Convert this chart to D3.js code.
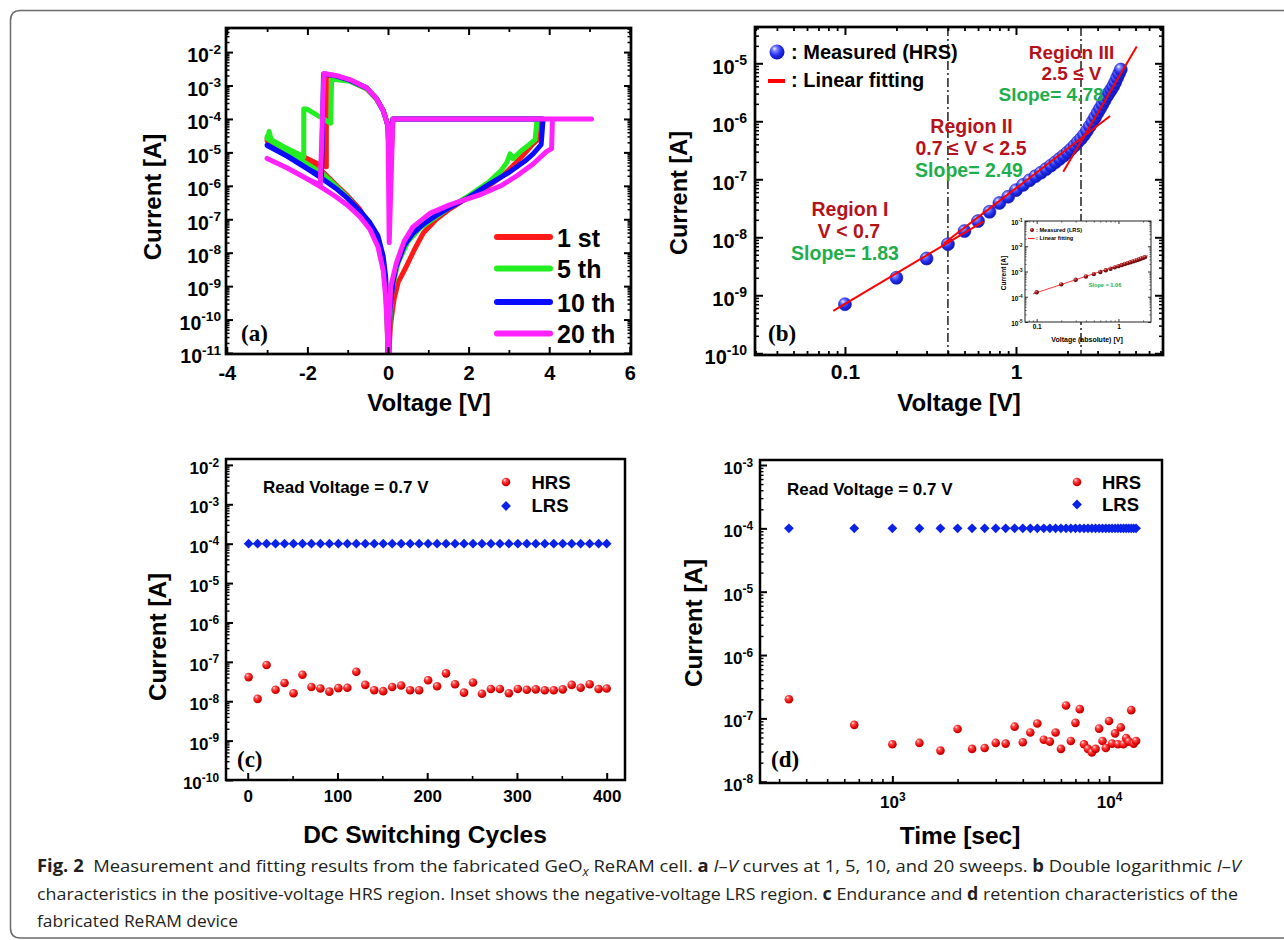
<!DOCTYPE html>
<html>
<head>
<meta charset="utf-8">
<script src="https://cdn.jsdelivr.net/npm/d3@7/dist/d3.min.js"></script>
<style>
html,body{margin:0;padding:0;background:#fff;}
svg{display:block;}
text{white-space:pre;}
</style>
</head>
<body>
<script>
// ================= DATA =================
// (a) I-V sweeps: [voltage V, |current| A] in sweep order
const sweepNames = ["1 st", "5 th", "10 th", "20 th"];
const sweepColors = ["#ff1a1a", "#22ee22", "#0a0aff", "#ff22ff"];
const ivVoltageTicks = [-4, -2, 0, 2, 4, 6];
const ivVoltageMinor = [-3, -1, 1, 3, 5];
const sweep1st = [
 [0.02,1e-11],[0.06,6e-11],[0.1,1.5e-10],[0.15,4e-10],[0.25,1.3e-9],[0.46,4e-9],[0.65,1.2e-8],[0.87,3.8e-8],[1.2,1e-7],[1.5,1.9e-7],[1.86,3.6e-7],[2.2,6e-7],[2.5,1e-6],[2.8,1.8e-6],[3.0,3e-6],[3.3,7e-6],[3.6,1.8e-5],[3.78,2.8e-5],[3.8,1e-4],
 [0.12,1e-4],[0.05,1e-6],[0.0,6e-5],
 [-0.04,9e-5],[-0.12,1.8e-4],[-0.29,4e-4],[-0.53,8e-4],[-0.95,1.4e-3],[-1.3,1.85e-3],[-1.53,2e-3],
 [-1.53,3.7e-6],[-1.77,4.7e-6],[-2.2,8.5e-6],[-2.6,1.35e-5],[-3.0,2.6e-5],
 [-3.0,2.2e-5],[-2.5,1e-5],[-2.0,4.5e-6],[-1.6,2.5e-6],[-1.3,1.1e-6],[-1.0,5e-7],[-0.7,2e-7],[-0.45,6e-8],[-0.25,2e-8],[-0.12,5e-9],[-0.06,1e-9],[-0.03,2e-10],[-0.01,3e-11],[0,1e-11]
];
const sweep5th = [
 [0.02,1e-11],[0.05,1e-10],[0.1,8e-10],[0.25,5e-9],[0.5,2.2e-8],[0.8,5.5e-8],[1.2,1.2e-7],[1.6,2.6e-7],[2.0,5e-7],[2.5,1.3e-6],[2.8,2.8e-6],[2.95,5e-6],[3.03,9e-6],[3.1,6.5e-6],[3.3,1.1e-5],[3.5,1.7e-5],[3.65,2.4e-5],[3.7,1e-4],
 [0.12,1e-4],[0.04,1e-6],[0.0,6e-5],
 [-0.04,9e-5],[-0.12,1.8e-4],[-0.29,4e-4],[-0.53,8e-4],[-0.95,1.35e-3],[-1.3,1.5e-3],[-1.4,1.5e-3],
 [-1.42,7.4e-5],[-2.02,2e-4],[-2.09,2e-4],[-2.09,7.4e-6],[-2.5,1.3e-5],[-2.9,2.4e-5],[-2.95,4.2e-5],[-2.98,2.8e-5],[-3.0,3e-5],
 [-3.0,2.6e-5],[-2.5,1.1e-5],[-2.0,4.5e-6],[-1.6,2.2e-6],[-1.3,1e-6],[-1.0,4.5e-7],[-0.7,1.6e-7],[-0.45,5.5e-8],[-0.25,1.8e-8],[-0.12,4e-9],[-0.06,8e-10],[-0.03,1.5e-10],[-0.01,3e-11],[0,1e-11]
];
const sweep10th = [
 [0.02,1e-11],[0.05,2e-10],[0.12,1.2e-9],[0.2,3.7e-9],[0.4,1.6e-8],[0.62,3.8e-8],[0.9,7.5e-8],[1.2,1.3e-7],[1.6,2.5e-7],[2.0,4.5e-7],[2.5,1.1e-6],[3.0,2.5e-6],[3.4,5.5e-6],[3.6,9e-6],[3.8,1.7e-5],[3.85,1e-4],
 [0.12,1e-4],[0.04,3e-6],[0.0,6e-5],
 [-0.04,9e-5],[-0.12,1.8e-4],[-0.29,4.2e-4],[-0.53,8.5e-4],[-0.95,1.45e-3],[-1.3,1.95e-3],[-1.6,2.2e-3],
 [-1.65,1.9e-6],[-2.0,3.3e-6],[-2.5,7.8e-6],[-3.0,1.66e-5],
 [-3.0,1.6e-5],[-2.5,7.6e-6],[-2.0,3.2e-6],[-1.65,1.7e-6],[-1.3,8.5e-7],[-1.0,4.2e-7],[-0.7,1.8e-7],[-0.45,8e-8],[-0.25,3.2e-8],[-0.12,8e-9],[-0.06,2e-9],[-0.03,4e-10],[-0.01,5e-11],[0,1e-11]
];
const sweep20th = [
 [0.02,1e-11],[0.03,1e-10],[0.07,1e-9],[0.21,5e-9],[0.4,2.2e-8],[0.62,5.9e-8],[1.04,1.5e-7],[1.5,2.6e-7],[1.86,3.7e-7],[2.3,5.5e-7],[2.8,1e-6],[3.2,2e-6],[3.6,4.5e-6],[3.93,1.05e-5],[4.06,1.3e-5],[4.08,1e-4],[5.05,1e-4],
 [0.12,1e-4],[0.03,2e-8],[0.0,6e-5],
 [-0.04,9e-5],[-0.12,1.8e-4],[-0.29,4.2e-4],[-0.53,8.5e-4],[-0.95,1.5e-3],[-1.3,2e-3],[-1.59,2.3e-3],
 [-1.68,1.05e-6],[-2.0,1.6e-6],[-2.5,3.4e-6],[-3.0,6.6e-6],
 [-3.0,6.6e-6],[-2.5,3.4e-6],[-2.0,1.6e-6],[-1.68,9.5e-7],[-1.3,4.8e-7],[-1.0,2.6e-7],[-0.7,1.2e-7],[-0.45,5e-8],[-0.25,1.5e-8],[-0.12,3e-9],[-0.06,5e-10],[-0.03,1e-10],[0,1e-11]
];
const sweeps = [sweep1st, sweep5th, sweep10th, sweep20th];

// (b) HRS double-log I-V
const hrsVoltage = [0.1,0.2,0.3,0.4,0.5,0.6,0.7,0.8,0.9,1.0,1.1,1.2,1.3,1.4,1.5,1.6,1.7,1.8,1.9,2.0,2.1,2.2,2.3,2.4,2.5,2.6,2.7,2.8,2.9,3.0,3.1,3.2,3.3,3.4,3.5,3.6,3.7,3.8,3.9,4.0,4.1];
const hrsCurrent = [7.0e-10,2.0e-9,4.3e-9,7.6e-9,1.28e-8,1.9e-8,2.75e-8,3.9e-8,5.0e-8,6.5e-8,8.0e-8,9.6e-8,1.13e-7,1.3e-7,1.5e-7,1.72e-7,1.97e-7,2.25e-7,2.55e-7,2.9e-7,3.3e-7,3.8e-7,4.4e-7,5.0e-7,5.8e-7,6.9e-7,8.2e-7,9.8e-7,1.17e-6,1.4e-6,1.65e-6,1.95e-6,2.3e-6,2.7e-6,3.1e-6,3.5e-6,4.0e-6,4.7e-6,5.6e-6,6.6e-6,7.8e-6];
const fitRegion1 = [[0.0855,5.4e-10],[0.644,1.86e-8]];
const fitRegion2 = [[0.38,7.9e-9],[3.55,1.23e-6]];
const fitRegion3 = [[1.89,1.35e-7],[5.08,1.95e-5]];
const regionBoundaries = [0.4, 2.4];
const hrsVTicks = [0.1, 1];
// inset: LRS
const lrsVoltage = [0.1,0.2,0.3,0.4,0.5,0.6,0.7,0.8,0.9,1.0,1.1,1.2,1.3,1.4,1.5,1.6,1.7,1.8,1.9,2.0,2.1];
const lrsCurrent = [1.5e-4,3.1e-4,4.7e-4,6.3e-4,7.9e-4,9.6e-4,1.12e-3,1.29e-3,1.46e-3,1.63e-3,1.8e-3,1.98e-3,2.15e-3,2.33e-3,2.51e-3,2.69e-3,2.88e-3,3.07e-3,3.27e-3,3.47e-3,3.7e-3];
const lrsFit = [[0.09,1.3e-4],[2.3,4.2e-3]];

// (c) endurance
const cycles = [1,11,21,31,41,51,61,71,81,91,101,111,121,131,141,151,161,171,181,191,201,211,221,231,241,251,261,271,281,291,301,311,321,331,341,351,361,371,381,391,400];
const enduranceHRS = [4.1e-8,1.15e-8,8.3e-8,1.95e-8,2.9e-8,1.6e-8,4.7e-8,2.3e-8,2.1e-8,1.75e-8,2.15e-8,2.2e-8,5.6e-8,2.6e-8,1.9e-8,1.8e-8,2.3e-8,2.5e-8,1.9e-8,1.9e-8,3.4e-8,2.4e-8,5.1e-8,2.7e-8,1.65e-8,3.0e-8,1.55e-8,2.05e-8,2.05e-8,1.6e-8,2.05e-8,1.95e-8,2.0e-8,1.9e-8,1.9e-8,2.0e-8,2.6e-8,2.2e-8,2.7e-8,2.05e-8,2.1e-8];
const enduranceLRS = [1e-4,1e-4,1e-4,1e-4,1e-4,1e-4,1e-4,1e-4,1e-4,1e-4,1e-4,1e-4,1e-4,1e-4,1e-4,1e-4,1e-4,1e-4,1e-4,1e-4,1e-4,1e-4,1e-4,1e-4,1e-4,1e-4,1e-4,1e-4,1e-4,1e-4,1e-4,1e-4,1e-4,1e-4,1e-4,1e-4,1e-4,1e-4,1e-4,1e-4,1e-4];
const cycleTicks = [0, 100, 200, 300, 400];
const cycleMinor = [50, 150, 250, 350];

// (d) retention
const retentionTime = [333,667,1000,1333,1667,2000,2333,2667,3000,3333,3667,4000,4333,4667,5000,5333,5667,6000,6333,6667,7000,7333,7667,8000,8333,8667,9000,9333,9667,10000,10333,10667,11000,11333,11667,12000,12333,12667,13000,13333];
const retentionHRS = [2.0e-7,7.9e-8,3.9e-8,4.1e-8,3.1e-8,6.8e-8,3.3e-8,3.4e-8,4.1e-8,4.0e-8,7.4e-8,4.2e-8,6.0e-8,8.3e-8,4.6e-8,4.3e-8,6.0e-8,3.3e-8,1.6e-7,4.4e-8,8.5e-8,1.4e-7,3.9e-8,3.3e-8,2.9e-8,3.3e-8,6.9e-8,4.4e-8,3.4e-8,9.1e-8,4.0e-8,5.8e-8,3.9e-8,7.2e-8,3.9e-8,4.9e-8,4.3e-8,1.35e-7,4.0e-8,4.4e-8];
const retentionLRS = [1e-4,1e-4,1e-4,1e-4,1e-4,1e-4,1e-4,1e-4,1e-4,1e-4,1e-4,1e-4,1e-4,1e-4,1e-4,1e-4,1e-4,1e-4,1e-4,1e-4,1e-4,1e-4,1e-4,1e-4,1e-4,1e-4,1e-4,1e-4,1e-4,1e-4,1e-4,1e-4,1e-4,1e-4,1e-4,1e-4,1e-4,1e-4,1e-4,1e-4];
const timeTicks = [1e3, 1e4];

// ================= DRAWING =================
const FONT = "'Liberation Sans', Arial, Helvetica, sans-serif";
const SERIF = "'Liberation Serif', 'Times New Roman', serif";
const CAPFONT = "'Open Sans', 'Noto Sans', sans-serif";
const REGION_RED = "#b5121b", SLOPE_GREEN = "#1fae4b";

const svg = d3.select("body").append("svg").attr("width", 1284).attr("height", 940);
const defs = svg.append("defs");
function sphereGrad(id, stops) {
  const g = defs.append("radialGradient").attr("id", id)
    .attr("cx", "0.42").attr("cy", "0.38").attr("r", "0.66").attr("fx", "0.33").attr("fy", "0.27");
  stops.forEach(s => g.append("stop").attr("offset", s[0]).attr("stop-color", s[1]));
}
sphereGrad("gBlue", [[0, "#f4f6ff"], [0.22, "#8088ff"], [0.6, "#2430ee"], [1, "#0a10b0"]]);
sphereGrad("gRed", [[0, "#ffeaea"], [0.3, "#ff4a4a"], [0.75, "#e00000"], [1, "#a00000"]]);
sphereGrad("gDRed", [[0, "#f0b0b0"], [0.35, "#b02020"], [1, "#500000"]]);

// figure border
svg.append("path").attr("d", "M1290,10.5 H20.5 Q10.5,10.5 10.5,20.5 V928 Q10.5,938 20.5,938 H1290")
  .attr("fill", "none").attr("stroke", "#6a6a6a").attr("stroke-width", 1.5);

function logMajors(lo, hi) {
  const out = [];
  for (let k = Math.floor(Math.log10(lo)); k <= Math.ceil(Math.log10(hi)); k++) {
    const v = Math.pow(10, k); if (v >= lo * 0.9999 && v <= hi * 1.0001) out.push(v);
  }
  return out;
}
function logMinors(lo, hi) {
  const out = [];
  for (let k = Math.floor(Math.log10(lo)); k <= Math.ceil(Math.log10(hi)); k++) {
    for (let m = 2; m <= 9; m++) { const v = m * Math.pow(10, k); if (v > lo && v < hi) out.push(v); }
  }
  return out;
}
function addAxis(g, orient, scale, values, box, o) {
  const maker = {bottom: d3.axisBottom, top: d3.axisTop, left: d3.axisLeft, right: d3.axisRight}[orient];
  const tx = orient === "left" ? box.x0 : orient === "right" ? box.x1 : 0;
  const ty = orient === "bottom" ? box.y1 : orient === "top" ? box.y0 : 0;
  const axis = maker(scale).tickValues(values).tickSizeInner(-o.len).tickSizeOuter(0)
    .tickPadding(o.pad === undefined ? 4 : o.pad).tickFormat(o.fmt || (() => ""));
  const ga = g.append("g").attr("transform", `translate(${tx},${ty})`).call(axis);
  ga.select(".domain").remove();
  ga.attr("font-family", FONT).attr("font-weight", "bold").attr("font-size", o.fs || 12);
  ga.selectAll(".tick line").attr("stroke", "#000").attr("stroke-width", o.sw || 2);
  ga.selectAll(".tick text").attr("fill", "#000");
  if (o.dy) ga.selectAll(".tick text").attr("dy", o.dy);
  if (o.pow) {
    ga.selectAll(".tick text").each(function(d) {
      const e = Math.round(Math.log10(d));
      const t = d3.select(this); t.text(null);
      t.append("tspan").text("10");
      t.append("tspan").attr("font-size", (o.fs || 12) * 0.7).attr("dy", "-0.62em").text(String(e));
    });
  }
  return ga;
}
function frame(g, b, sw, color) {
  g.append("rect").attr("x", b.x0).attr("y", b.y0).attr("width", b.x1 - b.x0).attr("height", b.y1 - b.y0)
    .attr("fill", "none").attr("stroke", color || "#000").attr("stroke-width", sw || 2.5);
}
function txt(g, x, y, s, o = {}) {
  return g.append("text").attr("x", x).attr("y", y).attr("dy", o.dy || "0.35em")
    .attr("text-anchor", o.anchor || "start").attr("font-family", o.font || FONT)
    .attr("font-weight", o.weight || "bold").attr("font-size", o.fs || 16)
    .attr("fill", o.fill || "#000").text(s);
}
function clipRect(id, b) {
  defs.append("clipPath").attr("id", id).append("rect")
    .attr("x", b.x0).attr("y", b.y0).attr("width", b.x1 - b.x0).attr("height", b.y1 - b.y0);
}
const diamond = d3.symbol().type(d3.symbolSquare).size(48);

// ---------- Panel (a) ----------
{
  const B = {x0: 226, x1: 631, y0: 28, y1: 354};
  const x = d3.scaleLinear().domain([-4.02, 6.03]).range([B.x0, B.x1]);
  const y = d3.scaleLog().domain([Math.pow(10, -11.03), Math.pow(10, -1.28)]).range([B.y1, B.y0]);
  const g = svg.append("g");
  clipRect("clipA", B);
  const line = d3.line().x(d => x(d[0])).y(d => y(d[1]));
  const gl = g.append("g").attr("clip-path", "url(#clipA)");
  sweeps.forEach((s, i) => gl.append("path").attr("d", line(s)).attr("fill", "none")
    .attr("stroke", sweepColors[i]).attr("stroke-width", 5).attr("stroke-linejoin", "round").attr("stroke-linecap", "round"));
  const yd = y.domain();
  addAxis(g, "bottom", x, ivVoltageTicks, B, {len: 7, pad: 12, fs: 20, fmt: d => String(d)});
  addAxis(g, "bottom", x, ivVoltageMinor, B, {len: 4, sw: 1.8});
  addAxis(g, "top", x, ivVoltageTicks, B, {len: 7});
  addAxis(g, "top", x, ivVoltageMinor, B, {len: 4, sw: 1.8});
  addAxis(g, "left", y, logMajors(yd[0], yd[1]), B, {len: 7, pad: 5, fs: 19.5, pow: true, dy: "0.5em"});
  addAxis(g, "left", y, logMinors(yd[0], yd[1]), B, {len: 3.5, sw: 1.5});
  addAxis(g, "right", y, logMajors(yd[0], yd[1]), B, {len: 7});
  addAxis(g, "right", y, logMinors(yd[0], yd[1]), B, {len: 3.5, sw: 1.5});
  frame(g, B, 2.7);
  // legend
  sweepNames.forEach((n, i) => {
    const ly = [237, 268.5, 302, 333.5][i];
    g.append("line").attr("x1", 497).attr("x2", 550).attr("y1", ly).attr("y2", ly)
      .attr("stroke", sweepColors[i]).attr("stroke-width", 6).attr("stroke-linecap", "round");
    txt(g, 557, ly + 1, n, {fs: 25});
  });
  txt(g, 241, 333, "(a)", {font: SERIF, fs: 23});
  txt(g, 429, 403, "Voltage [V]", {anchor: "middle", fs: 24});
  txt(g, 0, 0, "Current [A]", {anchor: "middle", fs: 24}).attr("transform", "translate(153,197) rotate(-90)");
}

// ---------- Panel (b) ----------
{
  const B = {x0: 755, x1: 1163, y0: 27, y1: 355};
  const x = d3.scaleLog().domain([Math.pow(10, -1.526), Math.pow(10, 0.8596)]).range([B.x0, B.x1]);
  const y = d3.scaleLog().domain([Math.pow(10, -10.03), Math.pow(10, -4.374)]).range([B.y1, B.y0]);
  const g = svg.append("g");
  clipRect("clipB", B);
  const xd = x.domain(), yd = y.domain();
  // dash-dot boundaries
  g.selectAll("line.bd").data(regionBoundaries).enter().append("line")
    .attr("x1", d => x(d)).attr("x2", d => x(d)).attr("y1", B.y0).attr("y2", B.y1)
    .attr("stroke", "#111").attr("stroke-width", 1.4).attr("stroke-dasharray", "9,3,2,3");
  const pts = hrsVoltage.map((v, i) => [v, hrsCurrent[i]]);
  g.append("g").selectAll("circle").data(pts).enter().append("circle")
    .attr("cx", d => x(d[0])).attr("cy", d => y(d[1])).attr("r", 6.5)
    .attr("fill", "url(#gBlue)").attr("stroke", "#1820c8").attr("stroke-width", 0.6);
  const line = d3.line().x(d => x(d[0])).y(d => y(d[1]));
  const gf = g.append("g").attr("clip-path", "url(#clipB)");
  [fitRegion1, fitRegion2, fitRegion3].forEach(f => gf.append("path").attr("d", line(f))
    .attr("stroke", "#ff0000").attr("stroke-width", 2).attr("fill", "none"));
  addAxis(g, "bottom", x, hrsVTicks, B, {len: 8, pad: 9, fs: 21, fmt: d => d < 0.5 ? "0.1" : "1"});
  addAxis(g, "bottom", x, logMinors(xd[0], xd[1]), B, {len: 4, sw: 1.8});
  addAxis(g, "top", x, hrsVTicks, B, {len: 8});
  addAxis(g, "top", x, logMinors(xd[0], xd[1]), B, {len: 4, sw: 1.8});
  addAxis(g, "left", y, logMajors(yd[0], yd[1]), B, {len: 8, pad: 8, fs: 20, pow: true, dy: "0.5em"});
  addAxis(g, "left", y, logMinors(yd[0], yd[1]), B, {len: 4, sw: 1.5});
  addAxis(g, "right", y, logMajors(yd[0], yd[1]), B, {len: 8});
  addAxis(g, "right", y, logMinors(yd[0], yd[1]), B, {len: 4, sw: 1.5});
  frame(g, B, 2.7);
  // legend
  g.append("circle").attr("cx", 777).attr("cy", 52).attr("r", 7.5).attr("fill", "url(#gBlue)");
  txt(g, 791, 52, ": Measured (HRS)", {fs: 20});
  g.append("line").attr("x1", 768).attr("x2", 785).attr("y1", 81).attr("y2", 81).attr("stroke", "#ff0000").attr("stroke-width", 4);
  txt(g, 791, 80, ": Linear fitting", {fs: 20});
  // region annotations
  txt(g, 1071.5, 52, "Region III", {anchor: "middle", fs: 19, fill: REGION_RED});
  txt(g, 1071.5, 73.5, "2.5 \u2264 V", {anchor: "middle", fs: 19, fill: REGION_RED});
  txt(g, 1051, 94, "Slope= 4.78", {anchor: "middle", fs: 19, fill: SLOPE_GREEN});
  txt(g, 971.5, 126, "Region II", {anchor: "middle", fs: 19.5, fill: REGION_RED});
  txt(g, 971, 148.5, "0.7 \u2264 V < 2.5", {anchor: "middle", fs: 19.5, fill: REGION_RED});
  txt(g, 969, 170.5, "Slope= 2.49", {anchor: "middle", fs: 19.5, fill: SLOPE_GREEN});
  txt(g, 850, 209.5, "Region I", {anchor: "middle", fs: 19.5, fill: REGION_RED});
  txt(g, 849, 231.5, "V < 0.7", {anchor: "middle", fs: 19.5, fill: REGION_RED});
  txt(g, 845, 253.5, "Slope= 1.83", {anchor: "middle", fs: 19.5, fill: SLOPE_GREEN});
  txt(g, 768, 333, "(b)", {font: SERIF, fs: 23});
  txt(g, 959, 403, "Voltage [V]", {anchor: "middle", fs: 24});
  txt(g, 0, 0, "Current [A]", {anchor: "middle", fs: 23.5}).attr("transform", "translate(679,193) rotate(-90)");

  // ---- inset ----
  const I = {x0: 1025, x1: 1151, y0: 221, y1: 322};
  const ix = d3.scaleLog().domain([0.072, 2.5]).range([I.x0, I.x1]);
  const iy = d3.scaleLog().domain([1e-5, 1e-1]).range([I.y1, I.y0]);
  const gi = svg.append("g");
  gi.append("rect").attr("x", I.x0).attr("y", I.y0).attr("width", I.x1 - I.x0).attr("height", I.y1 - I.y0).attr("fill", "#fff");
  const ixd = ix.domain(), iyd = iy.domain();
  gi.append("path").attr("d", d3.line().x(d => ix(d[0])).y(d => iy(d[1]))(lrsFit))
    .attr("stroke", "#ff2020").attr("stroke-width", 0.9).attr("fill", "none");
  gi.append("g").selectAll("circle").data(lrsVoltage.map((v, i) => [v, lrsCurrent[i]])).enter().append("circle")
    .attr("cx", d => ix(d[0])).attr("cy", d => iy(d[1])).attr("r", 2.2).attr("fill", "url(#gDRed)");
  addAxis(gi, "bottom", ix, [0.1, 1], I, {len: 3, sw: 0.8, pad: 2.5, fs: 6.5, fmt: d => d < 0.5 ? "0.1" : "1"});
  addAxis(gi, "bottom", ix, logMinors(ixd[0], ixd[1]), I, {len: 1.6, sw: 0.6});
  addAxis(gi, "top", ix, [0.1, 1], I, {len: 3, sw: 0.8});
  addAxis(gi, "top", ix, logMinors(ixd[0], ixd[1]), I, {len: 1.6, sw: 0.6});
  addAxis(gi, "left", iy, logMajors(iyd[0], iyd[1]), I, {len: 3, sw: 0.8, pad: 2.5, fs: 6.5, pow: true, dy: "0.5em"});
  addAxis(gi, "left", iy, logMinors(iyd[0], iyd[1]), I, {len: 1.6, sw: 0.6});
  addAxis(gi, "right", iy, logMajors(iyd[0], iyd[1]), I, {len: 3, sw: 0.8});
  addAxis(gi, "right", iy, logMinors(iyd[0], iyd[1]), I, {len: 1.6, sw: 0.6});
  frame(gi, I, 1, "#222");
  gi.append("circle").attr("cx", 1032).attr("cy", 230).attr("r", 2).attr("fill", "url(#gDRed)");
  txt(gi, 1036, 230, ": Measured (LRS)", {fs: 5.6});
  gi.append("line").attr("x1", 1028).attr("x2", 1034.5).attr("y1", 238.5).attr("y2", 238.5).attr("stroke", "#ff2020").attr("stroke-width", 1.2);
  txt(gi, 1036, 238.5, ": Linear fitting", {fs: 5.6});
  txt(gi, 1105, 285.5, "Slope = 1.06", {anchor: "middle", fs: 5.6, fill: SLOPE_GREEN});
  txt(gi, 1087, 339.5, "Voltage (absolute) [V]", {anchor: "middle", fs: 7});
  txt(gi, 0, 0, "Current [A]", {anchor: "middle", fs: 6.5}).attr("transform", "translate(1004,273) rotate(-90)");
}

// ---------- Panel (c) ----------
{
  const B = {x0: 226, x1: 625, y0: 459, y1: 780};
  const x = d3.scaleLinear().domain([-24.2, 420.4]).range([B.x0, B.x1]);
  const y = d3.scaleLog().domain([1e-10, Math.pow(10, -1.85)]).range([B.y1, B.y0]);
  const g = svg.append("g");
  const yd = y.domain();
  g.append("g").selectAll("path").data(cycles.map((c, i) => [c, enduranceLRS[i]])).enter().append("path")
    .attr("d", diamond).attr("transform", d => `translate(${x(d[0])},${y(d[1])}) rotate(45)`).attr("fill", "#0a22e8");
  g.append("g").selectAll("circle").data(cycles.map((c, i) => [c, enduranceHRS[i]])).enter().append("circle")
    .attr("cx", d => x(d[0])).attr("cy", d => y(d[1])).attr("r", 4.3).attr("fill", "url(#gRed)");
  addAxis(g, "bottom", x, cycleTicks, B, {len: 7, pad: 10, fs: 17, fmt: d => String(d)});
  addAxis(g, "bottom", x, cycleMinor, B, {len: 4, sw: 1.6});
  addAxis(g, "left", y, logMajors(yd[0], yd[1]), B, {len: 7, pad: 7, fs: 17, pow: true, dy: "0.5em"});
  addAxis(g, "left", y, logMinors(yd[0], yd[1]), B, {len: 3.5, sw: 1.4});
  frame(g, B, 2.5);
  txt(g, 263, 487, "Read Voltage = 0.7 V", {fs: 17});
  g.append("circle").attr("cx", 506).attr("cy", 482).attr("r", 4.3).attr("fill", "url(#gRed)");
  txt(g, 531.5, 483, "HRS", {fs: 18.5});
  g.append("path").attr("d", diamond).attr("transform", "translate(506,506) rotate(45)").attr("fill", "#0a22e8");
  txt(g, 531.5, 506, "LRS", {fs: 18.5});
  txt(g, 237, 759, "(c)", {font: SERIF, fs: 23});
  txt(g, 425, 834, "DC Switching Cycles", {anchor: "middle", fs: 24.5});
  txt(g, 0, 0, "Current [A]", {anchor: "middle", fs: 24.3}).attr("transform", "translate(157,637) rotate(-90)");
}

// ---------- Panel (d) ----------
{
  const B = {x0: 760, x1: 1162, y0: 460, y1: 783};
  const x = d3.scaleLog().domain([Math.pow(10, 2.389), Math.pow(10, 4.2446)]).range([B.x0, B.x1]);
  const y = d3.scaleLog().domain([Math.pow(10, -8.02), Math.pow(10, -2.921)]).range([B.y1, B.y0]);
  const g = svg.append("g");
  const xd = x.domain(), yd = y.domain();
  g.append("g").selectAll("path").data(retentionTime.map((t, i) => [t, retentionLRS[i]])).enter().append("path")
    .attr("d", diamond).attr("transform", d => `translate(${x(d[0])},${y(d[1])}) rotate(45)`).attr("fill", "#0a22e8");
  g.append("g").selectAll("circle").data(retentionTime.map((t, i) => [t, retentionHRS[i]])).enter().append("circle")
    .attr("cx", d => x(d[0])).attr("cy", d => y(d[1])).attr("r", 4.3).attr("fill", "url(#gRed)");
  addAxis(g, "bottom", x, timeTicks, B, {len: 7, pad: 13, fs: 17, pow: true});
  addAxis(g, "bottom", x, logMinors(xd[0], xd[1]), B, {len: 4, sw: 1.6});
  addAxis(g, "left", y, logMajors(yd[0], yd[1]), B, {len: 7, pad: 7, fs: 17, pow: true, dy: "0.5em"});
  addAxis(g, "left", y, logMinors(yd[0], yd[1]), B, {len: 3.5, sw: 1.4});
  frame(g, B, 2.5);
  txt(g, 787, 489, "Read Voltage = 0.7 V", {fs: 17});
  g.append("circle").attr("cx", 1077).attr("cy", 482).attr("r", 4.3).attr("fill", "url(#gRed)");
  txt(g, 1102, 482.5, "HRS", {fs: 18.5});
  g.append("path").attr("d", diamond).attr("transform", "translate(1077,504.5) rotate(45)").attr("fill", "#0a22e8");
  txt(g, 1102, 505, "LRS", {fs: 18.5});
  txt(g, 771, 759, "(d)", {font: SERIF, fs: 23});
  txt(g, 960, 835.5, "Time [sec]", {anchor: "middle", fs: 24.5});
  txt(g, 0, 0, "Current [A]", {anchor: "middle", fs: 24.3}).attr("transform", "translate(693,623) rotate(-90)");
}

// ---------- Caption ----------
const captionLines = [
  {y: 872, len: 1204, parts: [
    {t: "Fig. 2", b: 1}, {t: "  Measurement and fitting results from the fabricated GeO"}, {t: "x", i: 1, dy: 4, fs: 12},
    {t: " ReRAM cell. ", dy: -4}, {t: "a", b: 1}, {t: " "}, {t: "I", i: 1}, {t: "\u2013"}, {t: "V", i: 1},
    {t: " curves at 1, 5, 10, and 20 sweeps. "}, {t: "b", b: 1}, {t: " Double logarithmic "},
    {t: "I", i: 1}, {t: "\u2013"}, {t: "V", i: 1}]},
  {y: 900, len: 1201, parts: [
    {t: "characteristics in the positive-voltage HRS region. Inset shows the negative-voltage LRS region. "},
    {t: "c", b: 1}, {t: " Endurance and "}, {t: "d", b: 1}, {t: " retention characteristics of the"}]},
  {y: 927, len: 201, parts: [{t: "fabricated ReRAM device"}]}
];
captionLines.forEach(L => {
  const t = svg.append("text").attr("x", 37).attr("y", L.y).attr("font-family", CAPFONT)
    .attr("font-size", 17).attr("fill", "#231f20").attr("textLength", L.len).attr("lengthAdjust", "spacingAndGlyphs");
  L.parts.forEach(p => {
    const s = t.append("tspan").text(p.t);
    if (p.b) s.attr("font-weight", "bold");
    if (p.i) s.attr("font-style", "italic");
    if (p.dy) s.attr("dy", p.dy);
    if (p.fs) s.attr("font-size", p.fs);
  });
});
</script>
</body>
</html>
